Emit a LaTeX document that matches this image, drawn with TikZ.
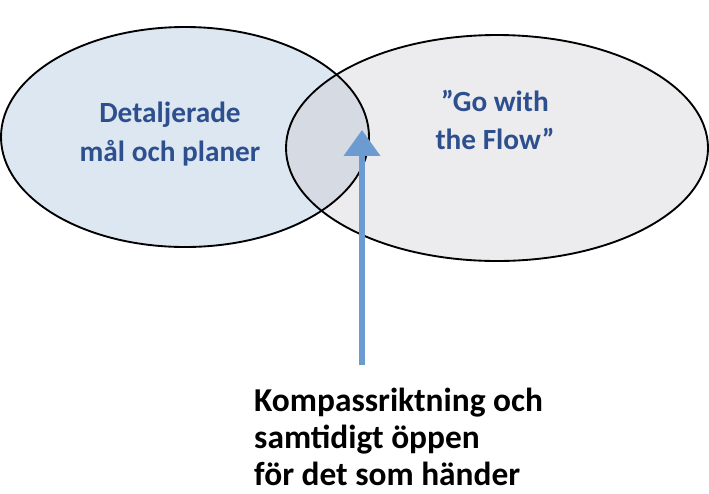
\documentclass[tikz,border=0pt]{standalone}
\usepackage{fontspec}
\setmainfont{Carlito}
\usetikzlibrary{arrows.meta}
\definecolor{leftfill}{HTML}{DDE7F2}
\definecolor{rightfill}{HTML}{ECECEF}
\definecolor{midfill}{HTML}{D5DAE3}
\definecolor{labelblue}{HTML}{2E4F8E}
\definecolor{arrowblue}{HTML}{6C9BD2}
\begin{document}
\begin{tikzpicture}[x=0.03cm, y=-0.03cm]
    \useasboundingbox (0,0) rectangle (709,493);
    \fill[leftfill] (185,137) ellipse (184 and 110);
    \fill[rightfill] (497,148) ellipse (211 and 113);
    \begin{scope}
      \clip (185,137) ellipse (184 and 110);
      \fill[midfill] (497,148) ellipse (211 and 113);
    \end{scope}
    \draw[line width=1.6pt] (185,137) ellipse (184 and 110);
    \draw[line width=1.6pt] (497,148) ellipse (211 and 113);

    \node[labelblue,font=\bfseries\fontsize{25}{33}\selectfont,align=center] (detalj) at (170,134) {Detaljerade\\mål och planer};
    \node[labelblue,font=\bfseries\fontsize{25}{33}\selectfont,align=center] (flow) at (495,120) {”Go with\\the Flow”};

    \coordinate (tail) at (362,365);
    \coordinate (tip) at (362,130);
    \draw[arrowblue,line width=5pt,-{Triangle[length=22pt,width=30pt]}] (tail) -- (tip);

    \node[font=\bfseries\fontsize{28.5}{31.5}\selectfont,align=left,anchor=north west,inner sep=0pt] (kompass) at (254,388) {Kompassriktning och\\samtidigt öppen\\för det som händer};
\end{tikzpicture}
\end{document}
